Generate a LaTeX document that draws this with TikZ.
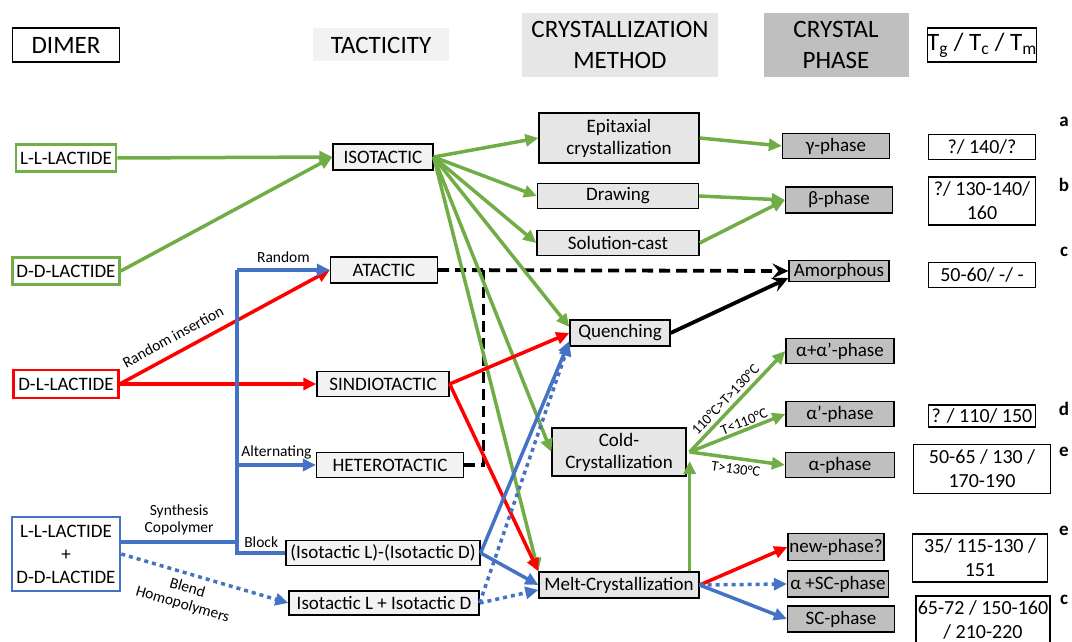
\documentclass[tikz,border=0pt]{standalone}
\usepackage{fontspec}
\setmainfont{Carlito}
\usetikzlibrary{arrows.meta,calc}

\definecolor{lgreen}{HTML}{70AD47}
\definecolor{lred}{HTML}{FF0000}
\definecolor{lblue}{HTML}{4472C4}
\definecolor{tacgray}{HTML}{F2F2F2}
\definecolor{methgray}{HTML}{E7E6E6}
\definecolor{phasegray}{HTML}{BFBFBF}

\begin{document}
\begin{tikzpicture}[x=1pt,y=-1pt]
        \tikzset{sz/.style 2 args={minimum width=#1pt,minimum height=#2pt},
            box/.style={draw,line width=1.3pt,inner sep=0pt,align=center,
                font=\fontsize{19}{22}\selectfont},
            dimbox/.style={box,line width=2.6pt,fill=white},
            tacbox/.style={box,fill=tacgray},
            methbox/.style={box,fill=methgray},
            phasebox/.style={box,fill=phasegray},
            tempbox/.style={box,fill=white,font=\fontsize{20}{24}\selectfont},
            head/.style={inner sep=0pt,align=center,font=\fontsize{25}{31}\selectfont},
            tag/.style={font=\bfseries\fontsize{19}{22}\selectfont},
            lbl/.style={text=black,font=\fontsize{15.5}{17}\selectfont,inner sep=2pt},
            tlbl/.style={text=black,font=\fontsize{14.5}{15}\selectfont,inner sep=1.5pt},
            conn/.style={line width=3.5pt},
            tip/.style={-{Triangle[length=13pt,width=12pt]}},
            garrow/.style={conn,lgreen,tip},
            rarrow/.style={conn,lred,tip},
            bline/.style={conn,lblue},
            barrow/.style={bline,tip},
            bdot/.style={barrow,dash pattern=on 4pt off 4pt},
            kline/.style={conn,line width=3.8pt,black,-{Stealth[length=16pt,width=15pt,inset=6pt]}},
            kdash/.style={kline,dash pattern=on 11pt off 6pt}}
        \useasboundingbox (0,0) rectangle (1072,642);
        % column headers
        \node[head,draw,line width=1.3pt,sz={107}{34}] (hdim) at (66,45) {DIMER};
        \node[head,fill=tacgray,sz={136}{33}] (htac) at (381,45) {TACTICITY};
        \node[head,fill=methgray,sz={196}{64}] (hmeth) at (620,45) {CRYSTALLIZATION\\METHOD};
        \node[head,fill=phasegray,sz={145}{64}] (hphase) at (836,45) {CRYSTAL\\PHASE};
        \node[head,draw,line width=1.3pt,sz={108}{34}] (htemp) at (982,45)
            {T\textsubscript{g} / T\textsubscript{c} / T\textsubscript{m}};
        % dimers
        \node[dimbox,draw=lgreen,sz={100}{27}] (ll) at (66,158) {L-L-LACTIDE};
        \node[dimbox,draw=lgreen,sz={107}{27}] (dd) at (66,271) {D-D-LACTIDE};
        \node[dimbox,draw=lred,sz={105}{28}] (dl) at (66,384) {D-L-LACTIDE};
        \node[dimbox,draw=lblue,sz={108}{74},font=\fontsize{19}{23}\selectfont] (lldd) at (66,554)
            {L-L-LACTIDE\\+\\D-D-LACTIDE};
        % tacticity
        \node[tacbox,sz={100}{26}] (iso) at (383,157) {ISOTACTIC};
        \node[tacbox,sz={107}{26}] (ata) at (384,270) {ATACTIC};
        \node[tacbox,sz={132}{25}] (sin) at (383,384) {SINDIOTACTIC};
        \node[tacbox,sz={147}{25}] (het) at (390,465) {HETEROTACTIC};
        \node[tacbox,sz={194}{25}] (blk) at (383,553) {(Isotactic L)-(Isotactic D)};
        \node[tacbox,sz={190}{24}] (ild) at (384,603) {Isotactic L + Isotactic D};
        % crystallization methods
        \node[methbox,sz={160}{50}] (epi) at (619,138) {Epitaxial\\crystallization};
        \node[methbox,sz={161}{25}] (drw) at (618,196) {Drawing};
        \node[methbox,sz={162}{25}] (sol) at (618,243) {Solution-cast};
        \node[methbox,sz={100}{26}] (que) at (620,333) {Quenching};
        \node[methbox,sz={134}{48}] (cold) at (619,452) {Cold-\\Crystallization};
        \node[methbox,sz={160}{26}] (melt) at (619,585) {Melt-Crystallization};
        % crystal phases
        \node[phasebox,sz={107}{25}] (gam) at (836,146) {γ-phase};
        \node[phasebox,sz={107}{26}] (bet) at (839,200) {β-phase};
        \node[phasebox,sz={100}{21}] (amo) at (839,271) {Amorphous};
        \node[phasebox,sz={108}{25}] (aa) at (840,351) {α+α’-phase};
        \node[phasebox,sz={108}{25}] (ap) at (840,414) {α’-phase};
        \node[phasebox,sz={109}{25}] (alp) at (840,465) {α-phase};
        \node[phasebox,sz={96}{27}] (new) at (836,547) {new-phase?};
        \node[phasebox,sz={101}{26}] (asc) at (838,584) {α +SC-phase};
        \node[phasebox,sz={107}{26}] (sc) at (841,619) {SC-phase};
        % temperatures
        \node[tempbox,sz={107}{25}] (ta) at (982,147) {?/ 140/?};
        \node[tempbox,sz={107}{48}] (tb) at (982,201) {?/ 130-140/\\160};
        \node[tempbox,sz={107}{25}] (tc) at (982,275) {50-60/ -/ -};
        \node[tempbox,sz={107}{22}] (td) at (982,416) {? / 110/ 150};
        \node[tempbox,sz={137}{49}] (te) at (982,469) {50-65 / 130 /\\170-190};
        \node[tempbox,sz={135}{48}] (tf) at (980,558) {35/ 115-130 /\\151};
        \node[tempbox,sz={134}{48}] (tg) at (983,620) {65-72 / 150-160\\/ 210-220};
        \node[tag] (ka) at (1064,122) {a};
        \node[tag] (kb) at (1064,185) {b};
        \node[tag] (kc) at (1064,252) {c};
        \node[tag] (kd) at (1064,409) {d};
        \node[tag] (ke) at (1064,452) {e};
        \node[tag] (kf) at (1064,531) {e};
        \node[tag] (kg) at (1064,600) {c};
        % helper points
        \coordinate (bus) at (237,0);
        \coordinate (fan) at ([xshift=3pt]cold.east);
        \coordinate (tee) at ($(ata.east)!0.13!(amo.west)$);
        % black links
        \draw[kdash] (ata.east) -- (amo.west);
        \draw[conn,dash pattern=on 11pt off 6pt] (het.east) -| (tee);
        \draw[kline] (que.east) -- ([yshift=-7pt]amo.west);
        % green links
        \draw[garrow] (ll.east) -- (iso.west);
        \draw[garrow] (dd.east) -- (iso.west);
        \draw[garrow] (iso.east) -- (epi.west);
        \draw[garrow] (iso.east) -- (drw.west);
        \draw[garrow] (iso.east) -- (sol.west);
        \draw[garrow] (iso.east) -- ([yshift=6pt]que.west);
        \draw[garrow] (iso.east) -- (cold.west);
        \draw[garrow] (iso.east) -- (melt.north west);
        \draw[garrow] (epi.east) -- (gam.west);
        \draw[garrow] (drw.east) -- (bet.west);
        \draw[garrow] (sol.east) -- (bet.west);
        \draw[garrow] (fan |- melt.north) -- ([yshift=-9pt]fan);
        \draw[garrow] (fan) -- node[tlbl,sloped,above=2pt,pos=0.45]{110°C>T>130°C} (aa.west);
        \draw[garrow] (fan) -- node[tlbl,sloped,above,pos=0.6]{T<110°C} (ap.west);
        \draw[garrow] (fan) -- node[tlbl,sloped,below=2pt,pos=0.5]{T>130°C} (alp.west);
        % red links
        \draw[rarrow] (dl.east) -- node[lbl,sloped,above=7pt,pos=0.29]{Random insertion} (ata.west);
        \draw[rarrow] (dl.east) -- (sin.west);
        \draw[rarrow] (sin.east) -- (que.west);
        \draw[rarrow] (sin.east) -- (melt.north west);
        \draw[rarrow] (melt.east) -- (new.west);
        % blue links
        \draw[bline] ([yshift=12pt]lldd.east) -- node[lbl,above=3pt,align=center]{Synthesis\\Copolymer}
            ([yshift=12pt]lldd.east -| bus);
        \draw[bline] (ata.west -| bus) -- (blk.west -| bus) -- node[lbl,above=2pt]{Block} (blk.west);
        \draw[barrow] (ata.west -| bus) -- node[lbl,above=4pt]{Random} (ata.west);
        \draw[barrow] (het.west -| bus) -- node[lbl,above=2pt]{Alternating} (het.west);
        \draw[bdot] (lldd.east) -- node[lbl,sloped,below=4pt,pos=0.42,align=center]{Blend\\Homopolymers} (ild.west);
        \draw[barrow] (blk.east) -- ([yshift=-8pt]que.west);
        \draw[bdot] (ild.east) -- ([yshift=-10pt]que.west);
        \draw[barrow] (blk.east) -- (melt.west);
        \draw[bdot] (ild.east) -- ([yshift=-5pt]melt.west);
        \draw[bdot] (melt.east) -- (asc.west);
        \draw[barrow] (melt.east) -- (sc.west);
    \end{tikzpicture}
\end{document}
